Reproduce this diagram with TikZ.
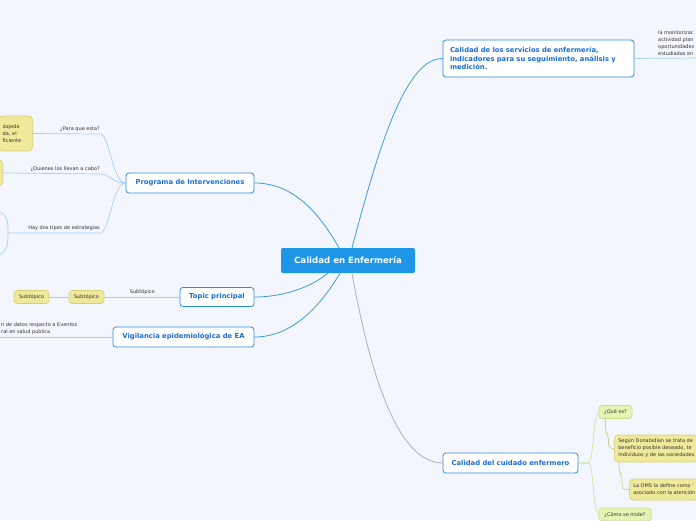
\documentclass[tikz,border=0pt]{standalone}
\usepackage{fontspec}
\setmainfont{DejaVu Sans}
\definecolor{bgcol}{HTML}{F3F6FD}
\definecolor{ctrblue}{HTML}{1E96E8}
\definecolor{topicblue}{HTML}{2E8CE0}
\definecolor{topictext}{HTML}{1B6FD1}
\definecolor{mainline}{HTML}{3C9BE0}
\definecolor{subline}{HTML}{A3D0F3}
\definecolor{yelfill}{HTML}{EFE99A}
\definecolor{yeldraw}{HTML}{D8CE78}
\definecolor{grnfill}{HTML}{E5F4B2}
\definecolor{grndraw}{HTML}{C8DF88}
\definecolor{grnline}{HTML}{CFE2A0}
\definecolor{tanline}{HTML}{D6CD8C}
\definecolor{greyline}{HTML}{B0B0B0}
\definecolor{lbltext}{HTML}{333333}
\newcommand\lblfont{\fontsize{5}{7}\selectfont}
\begin{document}
\begin{tikzpicture}[x=1pt, y=-1pt,
  centre/.style={fill=ctrblue, text=white, rounded corners=2pt, font=\fontsize{8.6}{10}\selectfont\bfseries, minimum width=134pt, minimum height=25pt},
  topic/.style={draw=topicblue, line width=0.8pt, fill=white, rounded corners=3pt, text=topictext, font=\fontsize{6.8}{8.5}\selectfont\bfseries, minimum height=20pt},
  yelbox/.style={draw=yeldraw, fill=yelfill, rounded corners=4pt, text=lbltext, font=\lblfont, line width=0.6pt},
  grnbox/.style={draw=grndraw, fill=grnfill, rounded corners=3pt, text=lbltext, font=\lblfont, line width=0.6pt, inner sep=2pt, minimum height=13pt},
  lbl/.style={text=lbltext, font=\lblfont, inner sep=1pt},
  mainconn/.style={draw=mainline, line width=0.8pt},
  subconn/.style={draw=subline, line width=0.7pt},
]
\useasboundingbox (0,0) rectangle (696,520);
\fill[bgcol] (0,0) rectangle (696,520);
\clip (0,0) rectangle (696,520);

% main nodes
\node[centre] (cen) at (348,260.5) {Calidad en Enfermería};
\node[topic, text width=177pt, align=left, inner xsep=7pt, minimum height=37pt] (serv) at (538.5,58.5) {Calidad de los servicios de enfermería,\\indicadores para su seguimiento, análisis y\\medición.};
\node[topic, minimum width=128pt] (prog) at (190,183) {Programa de Intervenciones};
\node[topic, minimum width=74pt, minimum height=19pt] (topp) at (217,297) {Topic principal};
\node[topic, minimum width=141pt] (vig) at (183.5,337) {Vigilancia epidemiológica de EA};
\node[topic, minimum width=135pt] (cuid) at (510.5,463) {Calidad del cuidado enfermero};

\draw[mainconn] ([xshift=4pt]cen.north) .. controls (378,150) and (405,58) .. (serv.west);
\draw[mainconn] ([xshift=-9pt]cen.north) .. controls (320,215) and (295,183) .. (prog.east);
\draw[mainconn] ([xshift=-20pt]cen.south) .. controls (310,288) and (282,297) .. (topp.east);
\draw[mainconn] ([xshift=-8pt]cen.south) .. controls (318,310) and (290,337) .. (vig.east);
\draw[draw=greyline, line width=0.8pt] ([xshift=4pt]cen.south) .. controls (366,350) and (392,463) .. (cuid.west);

% Programa de Intervenciones
\node[yelbox, anchor=east, text width=26pt, align=left, inner xsep=4pt, minimum height=35pt] (purp) at (33,133.5) {dajede\\da, el\\ficiente};
\node[yelbox, anchor=east, minimum width=30pt, minimum height=26pt] (who) at (3,173) {};
\coordinate (strat) at (8,233);
\draw[subconn] (prog.west) .. controls (112,183) and (110,134) .. (100,134) -- (purp.east);
\draw[subconn] (prog.west) .. controls (112,183) and (110,174) .. (100,174) -- (who.east);
\draw[subconn] (prog.west) .. controls (112,183) and (110,233) .. (100,233) -- (strat);
\draw[subconn] (-2,212) .. controls (8,214) and (8,222) .. (strat) .. controls (8,246) and (7,252) .. (-2,255);
\node[lbl, anchor=south east] (plbl) at (101,133) {¿Para que esta?};
\node[lbl, anchor=south east] (wlbl) at (101,173) {¿Quienes los llevan a cabo?};
\node[lbl, anchor=south east] (slbl) at (101,232) {Hay dos tipos de estrategias};

% Topic principal
\node[yelbox, minimum width=35pt, minimum height=13pt, inner sep=1pt, rounded corners=3pt] (sub1) at (86.5,297) {Subtópico};
\node[yelbox, minimum width=35pt, minimum height=13pt, inner sep=1pt, rounded corners=3pt] (sub2) at (31.5,297) {Subtópico};
\draw[subconn] (topp.west) -- (sub1.east);
\draw[subconn] (sub1.west) -- (sub2.east);
\node[lbl, anchor=south east] (tlbl) at (156,296) {Subtópico};

% Vigilancia epidemiologica
\coordinate (vigend) at (-4,337);
\draw[subconn] (vig.west) -- (vigend);
\node[lbl, anchor=south west, align=left] (vlbl) at (0,336) {n de datos respecto a Eventos\\ral en salud publica};

% Calidad de los servicios
\coordinate (servend) at (700,58);
\draw[subconn] (serv.east) -- (servend);
\node[lbl, anchor=south west, align=left] (mon) at (657,57) {la monitorizac\\actividad plan\\oportunidades\\estudiadas en};

% Calidad del cuidado enfermero
\node[grnbox, minimum width=33pt] (que) at (615.5,412) {¿Qué es?};
\node[grnbox, minimum width=52pt] (como) at (625,514.5) {¿Cómo se mide?};
\node[yelbox, anchor=west, align=left, inner xsep=4pt, minimum height=27pt] (don) at (614,448.5) {Según Donabidian se trata de\\beneficio posible deseado, te\\individuos y de las sociedades};
\node[yelbox, anchor=west, align=left, inner xsep=4pt, minimum height=21pt] (oms) at (629,489.5) {La OMS la define como '\\asociado con la atención};
\draw[draw=grnline, line width=0.7pt] (cuid.east) -- (588,463) .. controls (594,463) and (593,412) .. (que.west);
\draw[draw=grnline, line width=0.7pt] (cuid.east) -- (588,463) .. controls (594,463) and (593,514.5) .. (como.west);
\draw[draw=tanline, line width=0.7pt, rounded corners=4pt] ([xshift=-10pt]que.south) -- ++(0,13) -- ++(3,4) |- (don.west);
\draw[draw=tanline, line width=0.7pt, rounded corners=4pt] ([xshift=5pt]don.south west) -- ++(0,9) -- ++(3,4) |- (oms.west);
\end{tikzpicture}
\end{document}
